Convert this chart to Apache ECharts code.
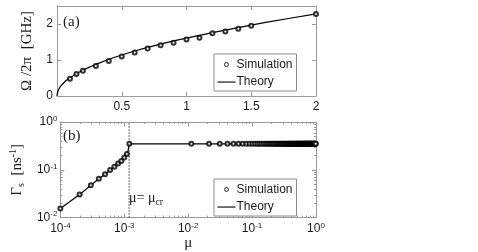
<!DOCTYPE html>
<html>
<head>
<meta charset="utf-8">
<script src="https://cdn.jsdelivr.net/npm/echarts@6/dist/echarts.min.js"></script>
<style>
html,body{margin:0;padding:0;background:#fff;}
#chart{width:478px;height:252px;}
</style>
</head>
<body>
<div id="chart"></div>
<script>
// ---- Panel (a): Omega/2pi vs mu ----
const topSimMu  = [0.1, 0.15, 0.2, 0.3, 0.4, 0.5, 0.6, 0.7, 0.8, 0.9, 1.0, 1.1, 1.2, 1.3, 1.4, 1.5, 2.0];
const topSimVal = [0.48, 0.61, 0.70, 0.83, 0.97, 1.10, 1.21, 1.32, 1.41, 1.48, 1.57, 1.62, 1.74, 1.79, 1.87, 1.95, 2.28];
const topTheoryMu  = [0, 0.002, 0.005, 0.01, 0.02, 0.04, 0.07, 0.1, 0.15, 0.2, 0.3, 0.4, 0.5, 0.6, 0.7, 0.8, 0.9, 1.0, 1.2, 1.4, 1.6, 1.8, 2.0];
const topTheoryVal = [0, 0.07, 0.11, 0.16, 0.23, 0.32, 0.43, 0.51, 0.62, 0.72, 0.88, 1.02, 1.14, 1.25, 1.35, 1.44, 1.53, 1.61, 1.76, 1.90, 2.04, 2.16, 2.28];
const topXTicks = [0.5, 1, 1.5, 2];
const topYTicks = [0, 1, 2];

// ---- Panel (b): Gamma_s vs mu (log-log) ----
const botSimMu = [0.0001, 0.0002, 0.0003, 0.0004, 0.0005, 0.0006, 0.0007, 0.0008, 0.0009, 0.0010, 0.0011, 0.0012,
  0.0112, 0.0212, 0.0312, 0.0412, 0.0512, 0.0612, 0.0712, 0.0812, 0.0912, 0.1012,
  0.1112, 0.1212, 0.1312, 0.1412, 0.1512, 0.1612, 0.1712, 0.1812, 0.1912, 0.2012,
  0.2112, 0.2212, 0.2312, 0.2412, 0.2512, 0.2612, 0.2712, 0.2812, 0.2912, 0.3012,
  0.3112, 0.3212, 0.3312, 0.3412, 0.3512, 0.3612, 0.3712, 0.3812, 0.3912, 0.4012,
  0.4112, 0.4212, 0.4312, 0.4412, 0.4512, 0.4612, 0.4712, 0.4812, 0.4912, 0.5012,
  0.5112, 0.5212, 0.5312, 0.5412, 0.5512, 0.5612, 0.5712, 0.5812, 0.5912, 0.6012,
  0.6112, 0.6212, 0.6312, 0.6412, 0.6512, 0.6612, 0.6712, 0.6812, 0.6912, 0.7012,
  0.7112, 0.7212, 0.7312, 0.7412, 0.7512, 0.7612, 0.7712, 0.7812, 0.7912, 0.8012,
  0.8112, 0.8212, 0.8312, 0.8412, 0.8512, 0.8612, 0.8712, 0.8812, 0.8912, 0.9012,
  0.9112, 0.9212, 0.9312, 0.9412, 0.9512, 0.9612, 0.9712, 0.9812, 0.9912];
const botSimVal = [0.0155, 0.0303, 0.0475, 0.0647, 0.0807, 0.0986, 0.1156, 0.135, 0.153, 0.181, 0.215, 0.35,
  0.35, 0.35, 0.35, 0.35, 0.35, 0.35, 0.35, 0.35, 0.35, 0.35,
  0.35, 0.35, 0.35, 0.35, 0.35, 0.35, 0.35, 0.35, 0.35, 0.35,
  0.35, 0.35, 0.35, 0.35, 0.35, 0.35, 0.35, 0.35, 0.35, 0.35,
  0.35, 0.35, 0.35, 0.35, 0.35, 0.35, 0.35, 0.35, 0.35, 0.35,
  0.35, 0.35, 0.35, 0.35, 0.35, 0.35, 0.35, 0.35, 0.35, 0.35,
  0.35, 0.35, 0.35, 0.35, 0.35, 0.35, 0.35, 0.35, 0.35, 0.35,
  0.35, 0.35, 0.35, 0.35, 0.35, 0.35, 0.35, 0.35, 0.35, 0.35,
  0.35, 0.35, 0.35, 0.35, 0.35, 0.35, 0.35, 0.35, 0.35, 0.35,
  0.35, 0.35, 0.35, 0.35, 0.35, 0.35, 0.35, 0.35, 0.35, 0.35,
  0.35, 0.35, 0.35, 0.35, 0.35, 0.35, 0.35, 0.35, 0.35];
const botTheoryMu  = [0.0001, 0.0002, 0.0003, 0.0004, 0.0005, 0.0006, 0.0007, 0.0008, 0.0009, 0.0010, 0.0011, 0.00115, 0.00119, 1];
const botTheoryVal = [0.0155, 0.0303, 0.0475, 0.0647, 0.0807, 0.0986, 0.1156, 0.135, 0.153, 0.181, 0.215, 0.255, 0.35, 0.35];
const muCritical = 0.00119;
const botXTicks = [1e-4, 1e-3, 1e-2, 1e-1, 1];
const botYTicks = [1e-2, 1e-1, 1];

const seriesNames = ['Simulation', 'Theory'];

// minor ticks (2..9 x 10^k) for the log axes
function minorList(lo, hi) {
  const out = [];
  for (let k = lo; k < hi; k++) for (let m = 2; m <= 9; m++) out.push(m * Math.pow(10, k));
  return out;
}
const xMinor = minorList(-4, 0);
const yMinor = minorList(-2, 0);

const pair = (a, b) => a.map((v, i) => [v, b[i]]);

const SANS = 'Liberation Sans';
const SERIF = 'Liberation Serif';
const BOX = '#9a9a9a';
const TXT = '#1a1a1a';

const powRich = {
  b: { fontFamily: SANS, fontSize: 12, color: TXT, lineHeight: 15 },
  s: { fontFamily: SANS, fontSize: 8, color: TXT, verticalAlign: 'top', lineHeight: 15, padding: [0, 0, 5, 0] }
};
const powFmt = v => '{b|10}{s|' + Math.round(Math.log10(v)) + '}';

function boxAxis(extra) {
  return Object.assign({
    axisLine: { show: true, onZero: false, lineStyle: { color: BOX, width: 1 } },
    axisTick: { show: true, inside: true, length: 4, lineStyle: { color: BOX } },
    splitLine: { show: false },
    minorTick: { show: false }
  }, extra);
}

const chart = echarts.init(document.getElementById('chart'), null, { renderer: 'canvas' });

const minorSeries = (axisIsX) => ({
  type: 'custom',
  xAxisIndex: 2, yAxisIndex: 2,
  silent: true, z: 1,
  data: axisIsX ? xMinor.map(v => [v, 0.01]) : yMinor.map(v => [1e-4, v]),
  renderItem: function (params, api) {
    const cs = params.coordSys;
    const p = api.coord([api.value(0), api.value(1)]);
    const st = { stroke: BOX, lineWidth: 1 };
    if (axisIsX) {
      const x = Math.round(p[0]) + 0.5;
      return { type: 'group', children: [
        { type: 'line', shape: { x1: x, y1: cs.y + cs.height, x2: x, y2: cs.y + cs.height - 2 }, style: st },
        { type: 'line', shape: { x1: x, y1: cs.y, x2: x, y2: cs.y + 2 }, style: st }
      ] };
    } else {
      const y = Math.round(p[1]) + 0.5;
      return { type: 'group', children: [
        { type: 'line', shape: { x1: cs.x, y1: y, x2: cs.x + 2, y2: y }, style: st },
        { type: 'line', shape: { x1: cs.x + cs.width, y1: y, x2: cs.x + cs.width - 2, y2: y }, style: st }
      ] };
    }
  }
});

const ringIcon = 'path://M0 0M18 12M11 6A2 2 0 1 1 7 6A2 2 0 1 1 11 6Z';
const lineIcon = 'path://M0 0M18 12M0 5.5L18 5.5L18 6.6L0 6.6Z';

function legendAt(top) {
  return {
    orient: 'vertical', left: 214, top: top,
    padding: [4, 4, 3, 3], itemGap: 5, itemWidth: 18, itemHeight: 12,
    backgroundColor: '#fff', borderColor: '#8c8c8c', borderWidth: 1, borderRadius: 0,
    textStyle: { fontFamily: SANS, fontSize: 12, color: TXT, padding: [0, 0, 0, -4] },
    selectedMode: false,
    data: [
      { name: seriesNames[0], icon: ringIcon, itemStyle: { color: 'transparent', borderColor: '#000', borderWidth: 1 } },
      { name: seriesNames[1], icon: lineIcon, itemStyle: { color: '#000', borderWidth: 0 } }
    ]
  };
}

const simStyle = { color: '#000', borderColor: '#000', borderWidth: 1 };

chart.setOption({
  animation: false,
  backgroundColor: '#fff',
  grid: [
    { left: 57, top: 6, width: 259, height: 90 },
    { left: 57, top: 122, width: 259, height: 99 }
  ],
  legend: [legendAt(54), legendAt(179)],
  xAxis: [
    boxAxis({ gridIndex: 0, type: 'value', position: 'bottom', min: 0, max: 2, interval: 0.5,
      axisLabel: { showMinLabel: false, margin: 5, fontFamily: SANS, fontSize: 12, color: TXT,
        formatter: v => (topXTicks.indexOf(v) >= 0 ? String(v) : '') } }),
    boxAxis({ gridIndex: 0, type: 'value', position: 'top', min: 0, max: 2, interval: 0.5, axisLabel: { show: false } }),
    boxAxis({ gridIndex: 1, type: 'log', logBase: 10, position: 'bottom', min: 1e-4, max: 1,
      name: 'μ', nameLocation: 'middle', nameGap: 15,
      nameTextStyle: { fontFamily: SERIF, fontSize: 15, color: TXT },
      axisLabel: { margin: 4, formatter: v => (botXTicks.some(t => Math.abs(Math.log10(t) - Math.log10(v)) < 1e-6) ? powFmt(v) : ''), rich: powRich } }),
    boxAxis({ gridIndex: 1, type: 'log', logBase: 10, position: 'top', min: 1e-4, max: 1, axisLabel: { show: false } })
  ],
  yAxis: [
    boxAxis({ gridIndex: 0, type: 'value', position: 'left', min: 0, max: 2.5, interval: 1,
      name: 'Ω /2π  [GHz]', nameLocation: 'middle', nameRotate: 90, nameGap: 22,
      nameTextStyle: { fontFamily: SERIF, fontSize: 15, color: TXT },
      axisLabel: { margin: 4, fontFamily: SANS, fontSize: 12, color: TXT,
        formatter: v => (topYTicks.indexOf(v) >= 0 ? String(v) : '') } }),
    boxAxis({ gridIndex: 0, type: 'value', position: 'right', min: 0, max: 2.5, interval: 1, axisLabel: { show: false } }),
    boxAxis({ gridIndex: 1, type: 'log', logBase: 10, position: 'left', min: 0.01, max: 1,
      name: '{g|Γ}{sub|s}{g|  [ns}{sup|-1}{g|]}', nameLocation: 'middle', nameRotate: 90, nameGap: 26,
      nameTextStyle: { fontFamily: SERIF, fontSize: 15, color: TXT,
        rich: {
          g: { fontFamily: SERIF, fontSize: 15, color: TXT, lineHeight: 18 },
          sub: { fontFamily: SERIF, fontSize: 10, color: TXT, verticalAlign: 'bottom', lineHeight: 18 },
          sup: { fontFamily: SERIF, fontSize: 10, color: TXT, verticalAlign: 'top', lineHeight: 18 }
        } },
      axisLabel: { margin: 3, formatter: v => (botYTicks.some(t => Math.abs(Math.log10(t) - Math.log10(v)) < 1e-6) ? powFmt(v) : ''), rich: powRich } }),
    boxAxis({ gridIndex: 1, type: 'log', logBase: 10, position: 'right', min: 0.01, max: 1, axisLabel: { show: false } })
  ],
  graphic: [
    { type: 'text', left: 63, top: 15, silent: true,
      style: { text: '(a)', font: '15px "Liberation Serif"', fill: TXT } },
    { type: 'text', left: 63, top: 129, silent: true,
      style: { text: '(b)', font: '15px "Liberation Serif"', fill: TXT } },
    { type: 'text', left: 129, top: 191, silent: true,
      style: { text: '{t|μ= μ}{c|cr}', rich: {
        t: { fontFamily: SERIF, fontSize: 14, fill: TXT, lineHeight: 18 },
        c: { fontFamily: SERIF, fontSize: 10, fill: TXT, verticalAlign: 'bottom', lineHeight: 18 }
      } } }
  ],
  series: [
    { name: seriesNames[1], type: 'line', xAxisIndex: 0, yAxisIndex: 0, data: pair(topTheoryMu, topTheoryVal),
      symbol: 'none', smooth: false, lineStyle: { color: '#000', width: 1.2 }, itemStyle: { color: '#000' }, z: 3 },
    { name: seriesNames[0], type: 'scatter', xAxisIndex: 0, yAxisIndex: 0, data: pair(topSimMu, topSimVal),
      symbol: 'emptyCircle', symbolSize: 4, itemStyle: simStyle, z: 4 },
    { name: 'critical', type: 'line', xAxisIndex: 2, yAxisIndex: 2, data: [[muCritical, 0.01], [muCritical, 1]],
      symbol: 'none', silent: true, lineStyle: { color: '#000', width: 1, type: [1.2, 1.8] }, z: 2 },
    { name: seriesNames[1], type: 'line', xAxisIndex: 2, yAxisIndex: 2, data: pair(botTheoryMu, botTheoryVal),
      symbol: 'none', smooth: false, lineStyle: { color: '#000', width: 1.2 }, itemStyle: { color: '#000' }, z: 3 },
    { name: seriesNames[0], type: 'scatter', xAxisIndex: 2, yAxisIndex: 2, data: pair(botSimMu, botSimVal),
      symbol: 'emptyCircle', symbolSize: 4, itemStyle: simStyle, z: 4 },
    minorSeries(true),
    minorSeries(false)
  ]
});
</script>
</body>
</html>
